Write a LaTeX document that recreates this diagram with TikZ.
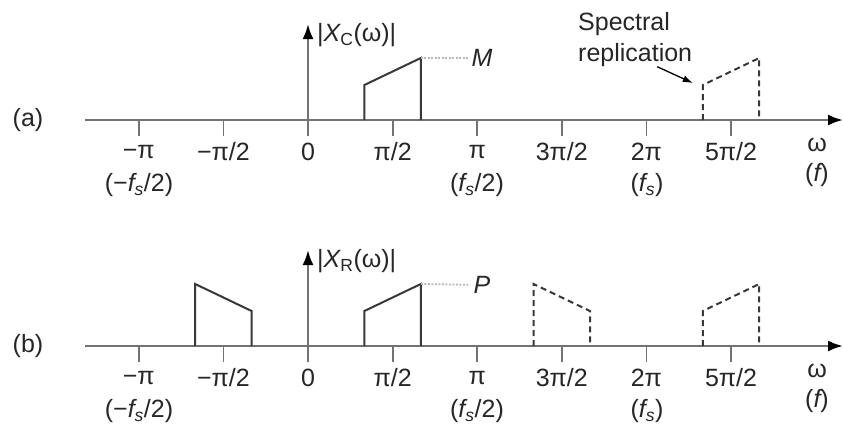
\documentclass[tikz,border=0pt]{standalone}
\usepackage{fontspec}
\setmainfont{Liberation Sans}
\usetikzlibrary{arrows.meta,positioning}

\definecolor{axisgray}{gray}{0.45}
\definecolor{linegray}{gray}{0.22}
\definecolor{dotgray}{gray}{0.72}

\begin{document}
\begin{tikzpicture}[x=1pt,y=-1pt,
  txt/.style={font=\fontsize{25}{31}\selectfont,text=black!85,inner sep=0pt},
  ax/.style={draw=axisgray,line width=2.4pt,-{Latex[length=15pt,width=11pt,color=black]}},
  tk/.style={draw=axisgray,line width=1.8pt},
  sp/.style={draw=linegray,line width=2pt,line join=miter},
  rep/.style={sp,dash pattern=on 6pt off 4pt},
  lvl/.style={draw=dotgray,line width=1.8pt,dash pattern=on 2pt off 1.5pt}]
  \useasboundingbox (0,0) rectangle (843,424);

  % the two frequency axes
  \foreach \p/\y/\s in {a/120/C,b/346/R} {
    \node[txt] (lab\p) at (28,\y) {(\p)};
    \coordinate (axs\p) at (85,\y);
    \coordinate (axe\p) at (843,\y);
    \coordinate (vbot\p) at (308,\y+16);
    \coordinate (vtop\p) at (308,\y-96);
    \draw[ax] (axs\p) -- (axe\p);
    \draw[ax] (vbot\p) -- (vtop\p);
    \node[txt,anchor=west] (mag\p) at (317,\y-85) {|{\itshape X}\textsubscript{\s}(ω)|};
    \foreach \k/\t in {-2/{−π},-1/{−π/2},0/0,1/{π/2},2/π,3/{3π/2},4/{2π},5/{5π/2}} {
      \draw[tk] (308+84.6*\k,\y) -- ++(0,16);
      \node[txt] (t\p\k) at (308+84.6*\k,\y+32) {\t};
    }
    \node[txt] (fa\p) at (139,\y+65) {(−{\itshape f}\textsubscript{\itshape s}/2)};
    \node[txt] (fb\p) at (477,\y+65) {({\itshape f}\textsubscript{\itshape s}/2)};
    \node[txt] (fc\p) at (647,\y+65) {({\itshape f}\textsubscript{\itshape s})};
    \node[txt] (w\p) at (817,\y+25) {ω};
    \node[txt] (f\p) at (817,\y+55) {({\itshape f})};
  }

  % (a) original spectrum and its replica
  \draw[sp] (364.4,120) -- (364.4,85) -- (420.8,58) -- (420.8,120);
  \coordinate (peaka) at (420.8,58);
  \node[txt,inner sep=3pt] (M) at (482,58) {\itshape M};
  \draw[lvl] (peaka) -- (M);
  \draw[rep] (702.8,120) -- (702.8,85) -- (759.2,58) -- (759.2,120);
  \coordinate (repa) at (702.8,85);
  \node[txt,align=left,anchor=north west] (spec) at (578,12) {Spectral\\replication};
  \draw[line width=1.3pt,-{Latex[length=10pt,width=7pt]}] ([xshift=22pt]spec.south) -- ([xshift=-10pt,yshift=2pt]repa);

  % (b) sampled spectrum
  \draw[sp] (195.2,346) -- (195.2,284) -- (251.6,311) -- (251.6,346);
  \draw[sp] (364.4,346) -- (364.4,311) -- (420.8,284) -- (420.8,346);
  \coordinate (peakb) at (420.8,284);
  \node[txt,inner sep=3pt] (P) at (482,285) {\itshape P};
  \draw[lvl] (peakb) -- (P);
  \draw[rep] (533.6,346) -- (533.6,284) -- (590,311) -- (590,346);
  \draw[rep] (702.8,346) -- (702.8,311) -- (759.2,284) -- (759.2,346);
\end{tikzpicture}
\end{document}
